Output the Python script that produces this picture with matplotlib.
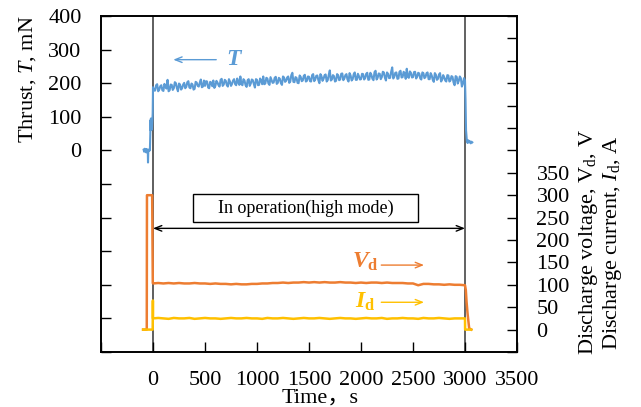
import numpy as np
import matplotlib
matplotlib.use("Agg")
import matplotlib.pyplot as plt
from matplotlib.patches import Rectangle

plt.rcParams['font.family'] = ['Liberation Serif', 'DejaVu Serif']
plt.rcParams['mathtext.fontset'] = 'custom'
plt.rcParams['mathtext.rm'] = 'Liberation Serif'
plt.rcParams['mathtext.it'] = 'Liberation Serif:italic'
plt.rcParams['mathtext.bf'] = 'Liberation Serif:bold'
plt.rcParams['mathtext.bfit'] = 'Liberation Serif:italic:bold'

# ---------------- data ----------------
# Thrust (mN)
thrust_pre_t = [-90, -85, -80, -75, -70, -65, -60, -55, -50, -48, -45, -40, -35, -30,
                -26, -24, -22, -20, -17, -14, -10, -6, -3]
thrust_pre_v = [2, -4, 5, -2, 3, -6, 4, 0, -3, -36, 2, -1, 3, 0,
                48, 90, 60, 95, 70, 85, 62, 90, 110]
# readings at t = 0, 20, 40, ... 3000 s
thrust_even_t = list(range(0, 3001, 20))
thrust_even_v = [
    188, 178, 197, 181, 194, 177, 190, 210, 179, 195, 185, 200, 176, 196, 185, 201, 189, 206, 185, 196, 183, 202, 190, 211, 190,
    192, 205, 185, 202, 208, 192, 202, 190, 213, 196, 207, 190, 205, 198, 212, 194, 203, 220, 194, 208, 189, 212, 199, 209, 187,
    210, 195, 208, 220, 199, 214, 195, 209, 202, 219, 201, 213, 195, 217, 207, 220, 205, 231, 203, 216, 200, 219, 208, 225, 207,
    219, 205, 227, 211, 223, 200, 221, 213, 226, 209, 238, 211, 221, 207, 224, 211, 229, 214, 227, 205, 223, 212, 232, 210, 221,
    212, 227, 215, 231, 211, 225, 209, 237, 216, 228, 218, 232, 208, 228, 216, 247, 219, 232, 214, 237, 218, 229, 243, 216, 231,
    218, 234, 219, 229, 211, 230, 218, 232, 212, 223, 204, 225, 213, 230, 210, 218, 205, 223, 208, 219, 194, 219, 207, 215, 198,
    208]
# readings at t = 10, 30, 50, ... 2990 s
thrust_odd_t = list(range(10, 3000, 20))
thrust_odd_v = [
    178, 194, 176, 191, 179, 198, 184, 176, 196, 180, 203, 185, 199, 181, 196, 185, 203, 187, 199, 181, 204, 192, 202, 188, 208,
    206, 187, 204, 191, 186, 207, 194, 210, 192, 210, 194, 212, 192, 208, 197, 214, 195, 197, 212, 194, 209, 192, 211, 197, 212,
    194, 214, 197, 197, 216, 199, 218, 201, 216, 198, 216, 200, 220, 204, 217, 201, 224, 204, 218, 201, 223, 206, 222, 205, 220,
    206, 224, 206, 222, 209, 227, 207, 224, 205, 225, 208, 224, 205, 227, 209, 228, 209, 224, 211, 230, 208, 227, 210, 228, 211,
    228, 211, 228, 210, 231, 213, 233, 211, 229, 212, 234, 216, 232, 215, 234, 214, 231, 213, 234, 217, 234, 213, 219, 235, 217,
    233, 214, 231, 214, 232, 215, 230, 212, 230, 210, 230, 210, 226, 205, 224, 208, 224, 205, 221, 202, 221, 199, 220, 190, 215]
thrust_post_t = [3005, 3010, 3018, 3025, 3032, 3040, 3048, 3055, 3062, 3070]
thrust_post_v = [150, 60, 28, 22, 30, 24, 27, 21, 26, 24]

# Discharge voltage Vd (V)
vd_pre_t = [-95, -60, -58, -8, -2]
vd_pre_v = [0, 0, 300, 300, 104]
vd_main_t = list(range(0, 3001, 50))
vd_main_v = [103, 104, 103, 104, 103, 104, 103, 103, 104, 103,
             103, 102, 103, 102, 102, 101, 102, 101, 101, 102,
             102, 103, 103, 104, 104, 105, 104, 105, 105, 106,
             105, 106, 105, 106, 105, 105, 106, 105, 105, 104,
             105, 104, 105, 105, 104, 105, 104, 104, 104, 103,
             103, 99, 102, 102, 101, 101, 100, 101, 100, 100,
             99]
vd_post_t = [3008, 3015, 3025, 3040, 3060]
vd_post_v = [88, 62, 35, 3, 0]

# Discharge current Id (A)
id_pre_t = [-95, -3, -1]
id_pre_v = [0, 0, 65]
id_main_t = list(range(0, 3001, 50))
id_main_v = [25, 26, 25, 24, 26, 25, 25, 26, 24, 25,
             26, 25, 25, 24, 25, 26, 25, 25, 26, 25,
             25, 24, 26, 25, 25, 26, 25, 24, 25, 26,
             25, 25, 26, 25, 24, 25, 26, 25, 25, 24,
             25, 26, 25, 25, 26, 24, 25, 25, 26, 25,
             25, 24, 26, 25, 25, 26, 25, 24, 25, 25,
             25]
id_post_t = [3001, 3060]
id_post_v = [0, 0]

x_ticks = [-500, 0, 500, 1000, 1500, 2000, 2500, 3000, 3500]
x_labels = ['', '0', '500', '1000', '1500', '2000', '2500', '3000', '3500']
yl_ticks = [-600, -500, -400, -300, -200, -100, 0, 100, 200, 300, 400]
yl_labels = ['', '', '', '', '', '', '0', '100', '200', '300', '400']
yr_ticks = [-50, 0, 50, 100, 150, 200, 250, 300, 350, 400, 450, 500, 550, 600, 650, 700]
yr_labels = ['', '0', '50', '100', '150', '200', '250', '300', '350', '', '', '', '', '', '', '']

BLUE = '#5B9BD5'
ORANGE = '#ED7D31'
YELLOW = '#FFC000'

# ---------------- figure ----------------
W, H = 641, 407
fig = plt.figure(figsize=(W / 100, H / 100), dpi=100)
ax = fig.add_axes([101 / W, 1 - 352 / H, 416 / W, 336 / H])
ax2 = ax.twinx()

ax.set_xlim(-500, 3500)
ax.set_ylim(-600, 400)
ax2.set_ylim(-50, 700)

ax.axvline(0, color='#333333', lw=1.1, zorder=1)
ax.axvline(3000, color='#555555', lw=1.3, zorder=1)

main_pairs = sorted(zip(thrust_even_t + thrust_odd_t, thrust_even_v + thrust_odd_v))
main_t = [p[0] for p in main_pairs]
main_v = [p[1] for p in main_pairs]
ax.plot(thrust_pre_t + main_t + thrust_post_t,
        thrust_pre_v + main_v + thrust_post_v,
        color=BLUE, lw=1.5, zorder=3)

ax2.plot(vd_pre_t + vd_main_t + vd_post_t, vd_pre_v + vd_main_v + vd_post_v,
         color=ORANGE, lw=1.8, zorder=3)
ax2.plot(id_pre_t + id_main_t + id_post_t, id_pre_v + id_main_v + id_post_v,
         color=YELLOW, lw=1.8, zorder=3)

# ticks
ax.set_xticks(x_ticks)
ax.set_xticklabels(x_labels)
ax.set_yticks(yl_ticks)
ax.set_yticklabels(yl_labels)
ax2.set_yticks(yr_ticks)
ax2.set_yticklabels(yr_labels)
for a in (ax, ax2):
    a.tick_params(direction='in', length=7, width=1, pad=14, labelsize=16, colors='black')
    for s in a.spines.values():
        s.set_linewidth(1.2)
        s.set_color('black')
ax.tick_params(axis='y', right=False)
ax.tick_params(axis='x', top=False)

# annotations
ax.annotate('', xy=(195, 270), xytext=(608, 270),
            arrowprops=dict(arrowstyle='->,head_length=0.5,head_width=0.2', color=BLUE, lw=1,
                            shrinkA=0, shrinkB=0))
ax.text(781, 272, r'$\mathbfit{T}$', color=BLUE, fontsize=17, ha='center', va='center')

ax2.annotate('', xy=(2606, 144), xytext=(2195, 144),
             arrowprops=dict(arrowstyle='->,head_length=0.5,head_width=0.2', color=ORANGE, lw=1,
                             shrinkA=0, shrinkB=0))
ax2.text(2040, 152, r'$\mathbfit{V}_{\mathbf{d}}$', color=ORANGE, fontsize=17, ha='center', va='center')
ax2.annotate('', xy=(2606, 61), xytext=(2195, 61),
             arrowprops=dict(arrowstyle='->,head_length=0.5,head_width=0.2', color=YELLOW, lw=1,
                             shrinkA=0, shrinkB=0))
ax2.text(2040, 62, r'$\mathbfit{I}_{\mathbf{d}}$', color=YELLOW, fontsize=17, ha='center', va='center')

# operation span
ax.annotate('', xy=(0, -232), xytext=(3000, -232),
            arrowprops=dict(arrowstyle='<->,head_length=0.5,head_width=0.2', color='black', lw=1,
                            shrinkA=0, shrinkB=0))
ax.add_patch(Rectangle((387, -214), 2548 - 387, 85, facecolor='white', edgecolor='black', lw=1, zorder=4))
ax.text(1467, -171, 'In operation(high mode)', fontsize=13, ha='center', va='center', zorder=5)

# axis labels
fig.text(27.5 / W, 1 - 79 / H, r'Thrust, $T$, mN', rotation=90, fontsize=16, ha='center', va='center')
fig.text(589 / W, 1 - 242 / H, r'Discharge voltage, $\mathrm{V}_\mathrm{d}$, V', rotation=90,
         fontsize=16, ha='center', va='center')
fig.text(613 / W, 1 - 243 / H, r'Discharge current, $I_\mathrm{d}$, A', rotation=90,
         fontsize=16, ha='center', va='center')
fig.text(320 / W, 1 - 398 / H, 'Time，s', fontsize=16, ha='center', va='center',
         family=['Liberation Serif', 'Noto Sans CJK JP'])

fig.savefig('out.png', dpi=100)
